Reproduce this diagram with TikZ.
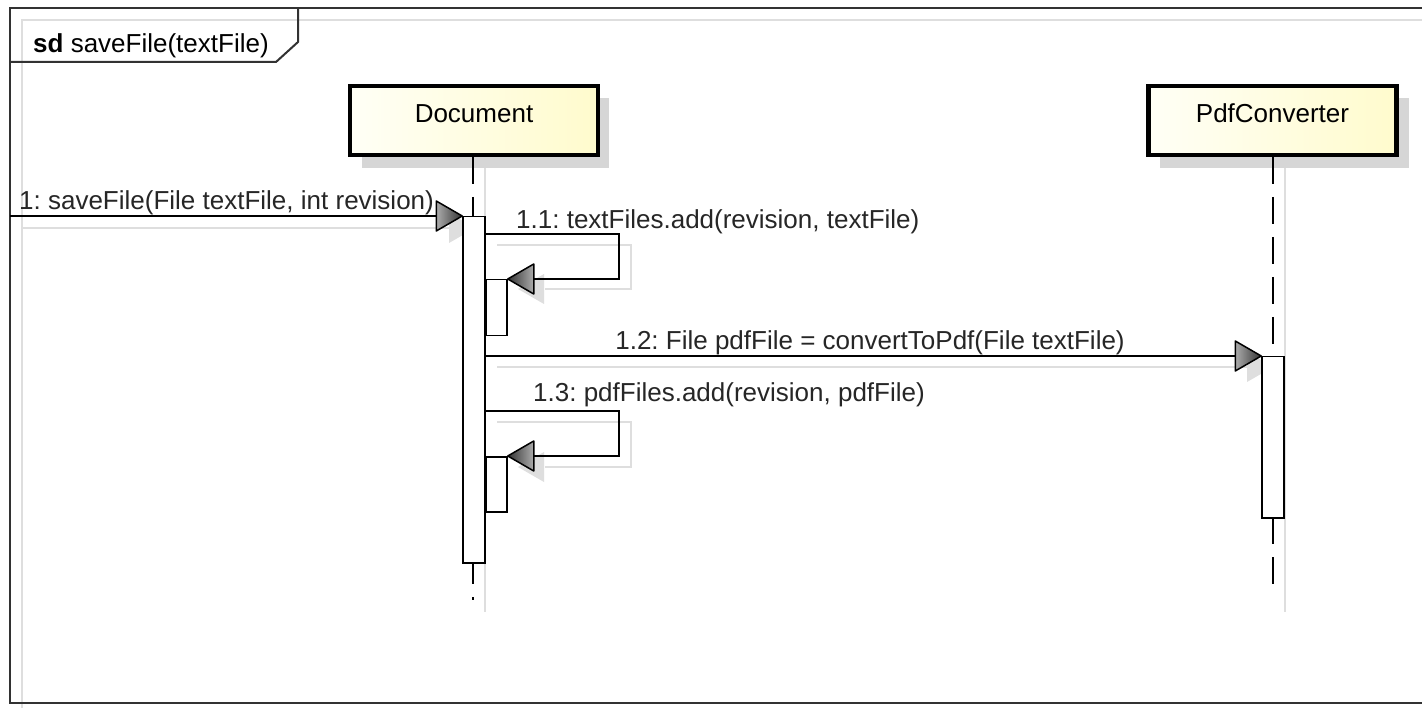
\documentclass[tikz,border=0pt]{standalone}
\usepackage{fontspec}
\setmainfont{Liberation Sans}
\frenchspacing
\definecolor{boxA}{RGB}{255,255,246}
\definecolor{boxB}{RGB}{255,251,205}
\definecolor{shadowc}{RGB}{222,222,222}
\definecolor{boxshadow}{RGB}{214,214,214}
\definecolor{framec}{RGB}{50,50,50}
\tikzset{
  frameline/.style={draw=framec, line width=2pt},
  shadowline/.style={draw=shadowc, line width=2pt},
  classbox/.style={draw=black, line width=4.5pt, left color=boxA, right color=boxB,
    minimum width=248pt, minimum height=69pt, inner sep=0pt, text height=20pt, text depth=15pt},
  lifeline/.style={draw=black, line width=1.6pt, dash pattern=on 27pt off 13pt},
  act/.style={draw=black, fill=white, line width=1.5pt, minimum width=22pt, inner sep=0pt, anchor=north},
  msg/.style={draw=black, line width=2pt},
  lbl/.style={anchor=base west, inner sep=0pt, text=black!85},
  tipR/.pic={\shade[left color=gray!65, right color=black!80, draw=black, line width=1.5pt, line join=round]
     (0,0) -- (-26,-15) -- (-26,15) -- cycle;},
  tipL/.pic={\shade[left color=black!80, right color=gray!65, draw=black, line width=1.5pt, line join=round]
     (0,0) -- (26,-15) -- (26,15) -- cycle;},
  stipR/.pic={\fill[shadowc] (0,0) -- (-26,-15) -- (-26,15) -- cycle;},
  stipL/.pic={\fill[shadowc] (0,0) -- (26,-15) -- (26,15) -- cycle;}
}
\begin{document}
\begin{tikzpicture}[x=1pt, y=-1pt, font=\fontsize{26}{30}\selectfont]
\useasboundingbox (0,0) rectangle (1422,708);
\fill[white] (0,0) rectangle (1422,708);
% frame shadow
\draw[shadowline] (1422,20) -- (22,20) -- (22,708);
% frame
\draw[frameline] (1430,8) -- (10,8) -- (10,703) -- (1430,703);
\draw[frameline] (10,62) -- (276,62) -- (298,42) -- (298,8);
\node[anchor=base west, inner sep=0pt] (title) at (33,53) {\textbf{sd} saveFile(textFile)};

% lifeline shadows
\draw[shadowline] (485,168) -- (485,612);
\draw[shadowline] (1285,168) -- (1285,612);

% class boxes
\fill[boxshadow] (362,98) rectangle (609,168);
\fill[boxshadow] (1160,98) rectangle (1409,168);
\node[classbox] (doc) at (474,120.5) {Document};
\node[classbox] (pdf) at (1272.5,120.5) {PdfConverter};

% lifelines
\coordinate (docEnd) at (473,600);
\coordinate (pdfEnd) at (1273,590);
\draw[lifeline] (473,157) -- (docEnd);
\draw[lifeline] (1273,157) -- (pdfEnd);

% message shadows
\draw[shadowline] (22,228) -- (452,228);
\pic at (475,228) {stipR};
\draw[shadowline] (497,245) -- (631,245) -- (631,289) -- (545,289);
\pic at (518,289) {stipL};
\draw[shadowline] (497,367) -- (1250,367);
\pic at (1273,367) {stipR};
\draw[shadowline] (497,422) -- (631,422) -- (631,467) -- (545,467);
\pic at (518,467) {stipL};

% activations
\node[act, minimum height=346pt] (docAct) at (474,216) {};
\node[act, minimum height=161pt] (pdfAct) at (1273,356) {};
\node[act, minimum width=21pt, minimum height=56pt] (act11) at (496.5,279) {};
\node[act, minimum width=21pt, minimum height=55pt] (act13) at (496.5,456) {};

% messages
\coordinate (m1s) at (10,216);
\draw[msg] (m1s) -- (docAct.north west);
\pic at (docAct.north west) {tipR};

\coordinate (m11s) at (485,234);
\coordinate (m11a) at (619,234);
\coordinate (m11b) at (619,279);
\draw[msg] (m11s) -- (m11a) -- (m11b) -- (act11.north east);
\pic at (act11.north east) {tipL};

\coordinate (m12s) at (485,356);
\draw[msg] (m12s) -- (pdfAct.north west);
\pic at (pdfAct.north west) {tipR};

\coordinate (m13s) at (485,411);
\coordinate (m13a) at (619,411);
\coordinate (m13b) at (619,456);
\draw[msg] (m13s) -- (m13a) -- (m13b) -- (act13.north east);
\pic at (act13.north east) {tipL};

% labels
\node[lbl] (l1) at (19,210) {1: saveFile(File textFile, int revision)};
\node[lbl] (l11) at (516,229) {1.1: textFiles.add(revision, textFile)};
\node[lbl, anchor=base] (l12) at (870,350) {1.2: File pdfFile = convertToPdf(File textFile)};
\node[lbl] (l13) at (533,402) {1.3: pdfFiles.add(revision, pdfFile)};
\end{tikzpicture}
\end{document}
